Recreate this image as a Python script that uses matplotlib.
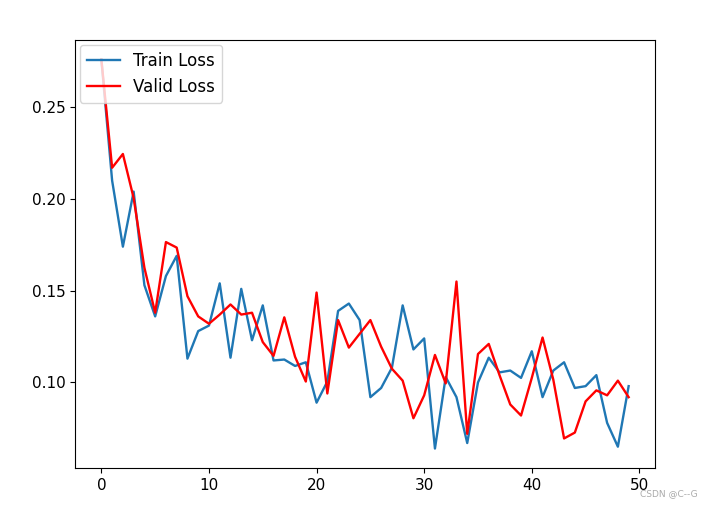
import matplotlib
matplotlib.use("Agg")
import matplotlib.pyplot as plt

epochs = list(range(50))

train_loss = [0.276, 0.210, 0.174, 0.204, 0.153, 0.136, 0.158, 0.169, 0.113, 0.128,
              0.131, 0.154, 0.1135, 0.151, 0.123, 0.142, 0.112, 0.1125, 0.109, 0.111,
              0.089, 0.1005, 0.139, 0.143, 0.134, 0.092, 0.097, 0.108, 0.142, 0.118,
              0.124, 0.064, 0.103, 0.092, 0.067, 0.100, 0.1135, 0.1055, 0.1065, 0.1025,
              0.117, 0.092, 0.1065, 0.111, 0.097, 0.098, 0.104, 0.078, 0.065, 0.098]

valid_loss = [0.276, 0.217, 0.2245, 0.2005, 0.1625, 0.138, 0.1765, 0.1735, 0.147, 0.136,
              0.132, 0.137, 0.1425, 0.137, 0.138, 0.122, 0.1145, 0.1355, 0.114, 0.1005,
              0.149, 0.094, 0.134, 0.119, 0.1265, 0.134, 0.1195, 0.1075, 0.101, 0.0805,
              0.093, 0.115, 0.0995, 0.155, 0.072, 0.1155, 0.121, 0.104, 0.088, 0.082,
              0.1025, 0.1245, 0.1015, 0.0695, 0.0727, 0.0897, 0.0957, 0.093, 0.101, 0.092]

fig = plt.figure(figsize=(7.08, 5.08), dpi=100)
ax = fig.add_axes([75 / 708, 1 - 468 / 508, 580 / 708, 428 / 508])

ax.plot(epochs, train_loss, color='#1f77b4', linewidth=1.7, label='Train Loss')
ax.plot(epochs, valid_loss, color='red', linewidth=1.7, label='Valid Loss')
ax.legend(loc='upper left', fontsize=12, borderaxespad=0.3)
ax.tick_params(labelsize=11)

fig.text(0.985, 0.02, 'CSDN @C--G', ha='right', va='bottom', fontsize=6.5, color='#aaaaaa')

fig.savefig('out.png', dpi=100)
